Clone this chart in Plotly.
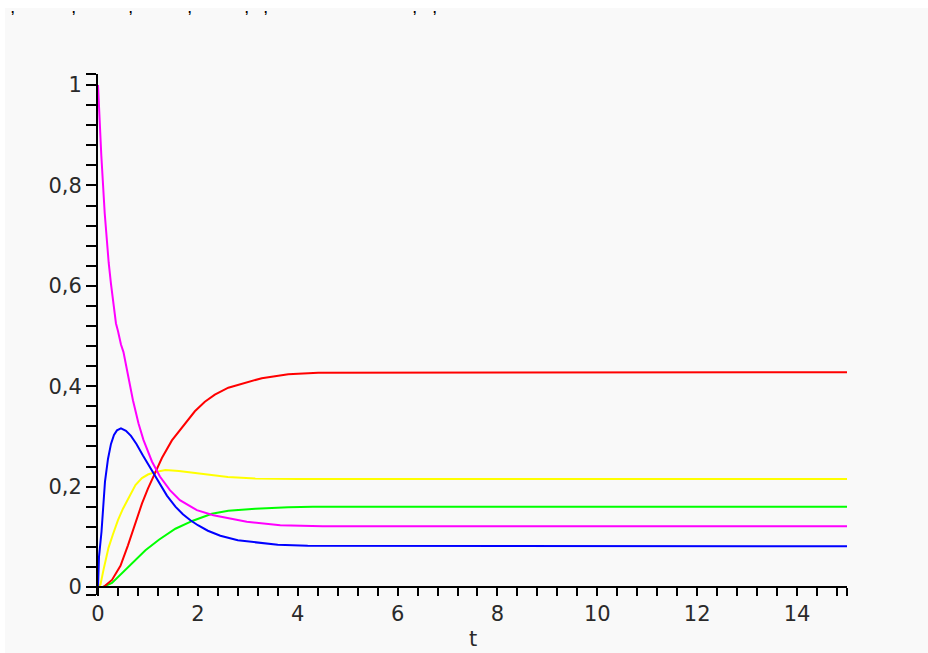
import plotly.graph_objects as go

# ---- data ----
t_magenta = [0, 0.03, 0.066, 0.134, 0.174, 0.214, 0.26, 0.315, 0.36, 0.4, 0.46, 0.51, 0.6, 0.7,
             0.81, 0.91, 1.08, 1.24, 1.44, 1.64, 1.98, 2.31, 2.98, 3.65, 4.5, 15]
v_magenta = [1.0, 0.93, 0.86, 0.745, 0.694, 0.646, 0.604, 0.565, 0.525, 0.51, 0.483, 0.468, 0.42, 0.372,
             0.326, 0.293, 0.25, 0.22, 0.193, 0.173, 0.153, 0.143, 0.13, 0.123, 0.121, 0.121]

t_blue = [0, 0.02, 0.07, 0.14, 0.2, 0.26, 0.32, 0.38, 0.46, 0.56, 0.66, 0.77, 0.9, 1.0, 1.1, 1.2,
          1.38, 1.55, 1.7, 1.85, 2.0, 2.2, 2.45, 2.8, 3.15, 3.6, 4.2, 15]
v_blue = [0, 0.06, 0.11, 0.21, 0.255, 0.285, 0.303, 0.312, 0.316, 0.311, 0.301, 0.285, 0.262, 0.245,
          0.228, 0.211, 0.182, 0.16, 0.145, 0.133, 0.123, 0.112, 0.102, 0.093, 0.089, 0.084, 0.082, 0.081]

t_yellow = [0, 0.05, 0.11, 0.21, 0.3, 0.4, 0.5, 0.62, 0.75, 0.88, 1.0, 1.15, 1.35, 1.62, 2.0, 2.3,
            2.6, 3.15, 4.0, 15]
v_yellow = [0, 0.005, 0.034, 0.078, 0.105, 0.133, 0.156, 0.179, 0.203, 0.217, 0.224, 0.229, 0.233,
            0.231, 0.226, 0.223, 0.219, 0.216, 0.215, 0.215]

t_red = [0, 0.11, 0.28, 0.45, 0.6, 0.75, 0.88, 1.0, 1.12, 1.28, 1.48, 1.75, 1.94, 2.14, 2.34, 2.61,
         2.95, 3.28, 3.81, 4.41, 15]
v_red = [0, 0.0, 0.014, 0.042, 0.083, 0.127, 0.166, 0.196, 0.222, 0.257, 0.292, 0.327, 0.35, 0.369,
         0.383, 0.397, 0.407, 0.416, 0.424, 0.427, 0.428]

t_green = [0, 0.1, 0.28, 0.45, 0.68, 0.95, 1.22, 1.55, 1.9, 2.28, 2.61, 3.15, 3.81, 4.3, 15]
v_green = [0, 0.0, 0.008, 0.024, 0.047, 0.073, 0.094, 0.116, 0.132, 0.146, 0.152, 0.156, 0.159, 0.16, 0.16]

x_major = [0, 2, 4, 6, 8, 10, 12, 14]
x_labels = ["0", "2", "4", "6", "8", "10", "12", "14"]
y_major = [0, 0.2, 0.4, 0.6, 0.8, 1.0]
y_labels = ["0", "0,2", "0,4", "0,6", "0,8", "1"]

# minor tick positions (every 0.4 on t, every 0.04 on y) plus axis-end ticks
x_ticks = [round(i * 0.4, 4) for i in range(38)] + [14.99]
x_text = []
for v in x_ticks:
    lab = ""
    for m, l in zip(x_major, x_labels):
        if abs(v - m) < 1e-9:
            lab = l
    x_text.append(lab)
y_ticks = [round(i * 0.04, 4) for i in range(26)] + [1.0215, -0.0155]
y_text = []
for v in y_ticks:
    lab = ""
    for m, l in zip(y_major, y_labels):
        if abs(v - m) < 1e-9:
            lab = l
    y_text.append(lab)

series = [
    (t_green, v_green, "#00ff00"),
    (t_yellow, v_yellow, "#ffff00"),
    (t_red, v_red, "#ff0000"),
    (t_blue, v_blue, "#0000ff"),
    (t_magenta, v_magenta, "#ff00ff"),
]

fig = go.Figure()
for tx, vy, c in series:
    fig.add_trace(go.Scatter(x=tx, y=vy, mode="lines", line=dict(color=c, width=2),
                             showlegend=False, hoverinfo="skip"))

font = dict(family="DejaVu Sans, Verdana, sans-serif", size=21, color="#2a2a2a")

fig.update_layout(
    width=928, height=653,
    margin=dict(l=98, r=81, t=74, b=58),
    paper_bgcolor="#ffffff",
    plot_bgcolor="rgba(0,0,0,0)",
    showlegend=False,
    font=font,
    xaxis=dict(range=[0, 15], showgrid=False, zeroline=False, showline=True, linecolor="black",
               linewidth=2, ticks="outside", ticklen=8, tickwidth=2, tickcolor="black",
               tickmode="array", tickvals=x_ticks, ticktext=x_text, tickfont=font,
               anchor="free", position=0.0155 / 1.038),
    yaxis=dict(range=[-0.016, 1.022], showgrid=False, zeroline=False, showline=True,
               linecolor="black", linewidth=2, ticks="outside", ticklen=10, tickwidth=2,
               tickcolor="black", tickmode="array", tickvals=y_ticks, ticktext=y_text,
               tickfont=font),
    shapes=[dict(type="rect", xref="paper", yref="paper", x0=-0.1242, x1=1.2, y0=-0.2, y1=1.1267,
                 fillcolor="#f9f9f9", line=dict(width=0), layer="below")],
)

# axis title "t"
fig.add_annotation(x=7.5, xref="x", y=(595 - 653) / 521, yref="paper", text="t",
                   showarrow=False, font=font, yanchor="bottom")

# fragments of a text line at the very top of the picture (only commas visible)
comma_px = [9, 70, 127, 186, 243, 262, 414, 434]
for px in comma_px:
    fig.add_annotation(x=(px - 98) / 749, xref="paper", y=(595 - 0) / 521, yref="paper",
                       text="<b>,</b>", showarrow=False, yanchor="top",
                       font=dict(family="Liberation Sans", size=12, color="black"))

fig.write_html("out.html")
